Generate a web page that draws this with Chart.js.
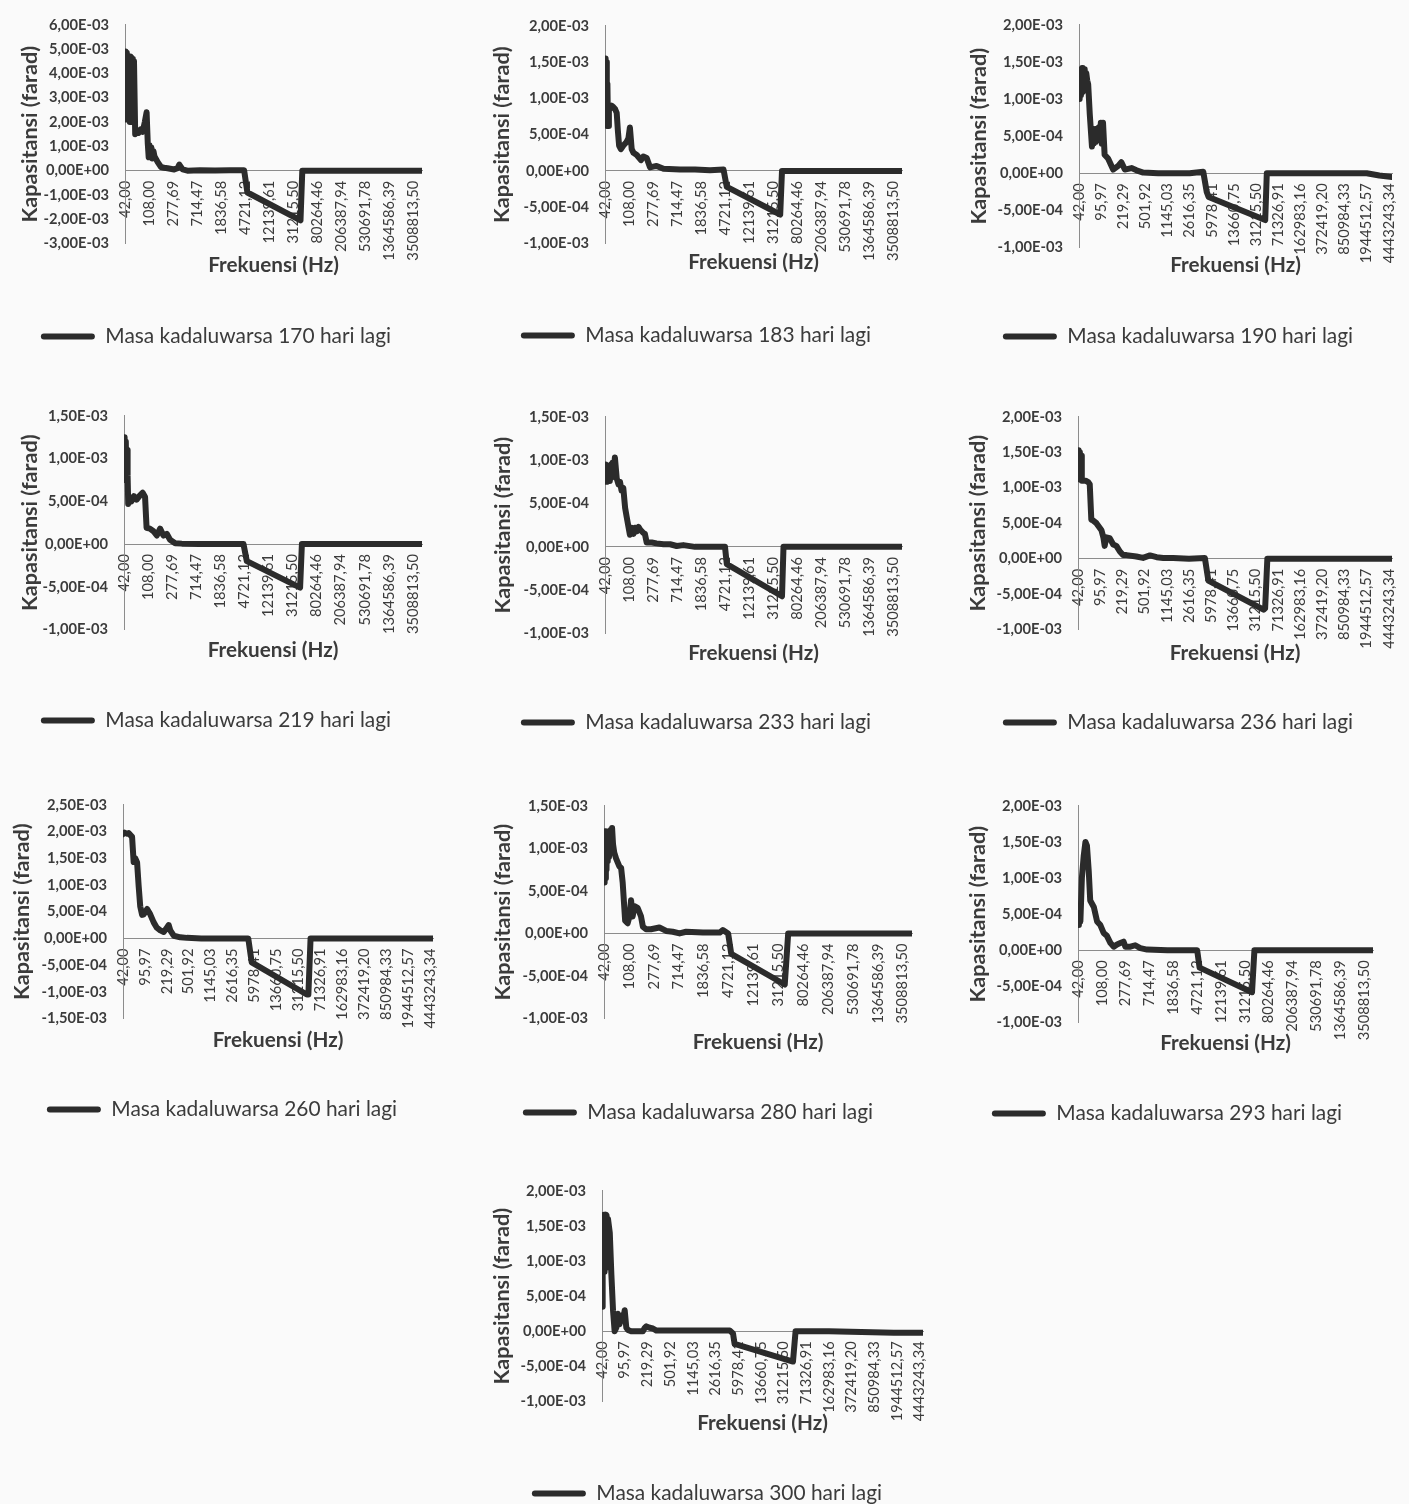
<!DOCTYPE html>
<html>
<head>
<meta charset="utf-8">
<script src="https://cdn.jsdelivr.net/npm/chart.js@4.4.1/dist/chart.umd.min.js"></script>
<style>
  html, body { margin: 0; padding: 0; background: #fafafa; }
  #page { position: relative; width: 1409px; height: 1504px; overflow: hidden; }
  #page canvas { position: absolute; }
</style>
</head>
<body>
<div id="page"></div>
<script>
// frequency tick labels (Hz), every 8th / every 7th sample
const freqA = ['42,00', '108,00', '277,69', '714,47', '1836,58', '4721,12', '12139,61', '31215,50',
  '80264,46', '206387,94', '530691,78', '1364586,39', '3508813,50'];
const freqB = ['42,00', '95,97', '219,29', '501,92', '1145,03', '2616,35', '5978,41', '13660,75',
  '31215,50', '71326,91', '162983,16', '372419,20', '850984,33', '1944512,57', '4443243,34'];

// capacitance (farad), x = sample index (0..99)
const idx170 = [0, 0.2, 0.4, 0.6, 0.8, 1.0, 1.2, 1.4, 1.6, 1.8, 2.0, 2.2, 2.4, 2.6, 2.8, 3.0, 3.4, 3.8, 4.5, 5.2, 5.9, 6.6, 7.2, 7.6, 7.9, 8.2, 8.5, 8.8, 9.1, 9.5, 9.8, 10.9, 12, 13, 14.2, 16.4, 17.5, 18.1, 19.2, 20.8, 25, 30, 35, 39.7, 40.8, 58.5, 59.1, 70, 80, 90, 99];
const cap170 = [2.1e-3, 4.9e-3, 2.1e-3, 4.85e-3, 2.1e-3, 4.7e-3, 2.1e-3, 4.7e-3, 2.0e-3, 4.7e-3, 2.0e-3, 4.65e-3, 2.0e-3, 4.6e-3, 2.0e-3, 4.5e-3, 1.5e-3, 1.6e-3, 1.55e-3, 1.7e-3, 1.6e-3, 2.0e-3, 2.4e-3, 1.1e-3, 0.55e-3, 1.05e-3, 0.55e-3, 0.95e-3, 0.5e-3, 0.8e-3, 0.6e-3, 0.35e-3, 0.15e-3, 0.12e-3, 0.1e-3, 0.05e-3, 0.1e-3, 0.25e-3, 0.05e-3, 0, 2e-5, 1e-5, 2e-5, 2e-5, -0.9e-3, -2.05e-3, 0, 0, 0, 0, 0];

const idx183 = [0, 0.2, 0.4, 0.6, 0.8, 1.0, 1.3, 1.6, 2.2, 2.8, 3.4, 3.9, 4.3, 4.7, 5.3, 6.1, 7.2, 7.8, 8.3, 8.9, 9.5, 10.6, 12.0, 12.8, 13.9, 15, 17.2, 19.5, 25, 30, 35, 39.5, 40.6, 58.4, 59, 70, 80, 90, 99];
const cap183 = [1.55e-3, 0.65e-3, 1.5e-3, 0.62e-3, 1.2e-3, 0.62e-3, 0.88e-3, 0.85e-3, 0.9e-3, 0.88e-3, 0.85e-3, 0.8e-3, 0.55e-3, 0.35e-3, 0.3e-3, 0.35e-3, 0.4e-3, 0.45e-3, 0.6e-3, 0.3e-3, 0.25e-3, 0.22e-3, 0.15e-3, 0.2e-3, 0.18e-3, 0.05e-3, 0.07e-3, 0.03e-3, 0.02e-3, 0.02e-3, 0.01e-3, 0.02e-3, -0.22e-3, -0.6e-3, 0, 0, 0, 0, 0];

const idx190 = [0, 0.2, 0.4, 0.6, 0.8, 1.0, 1.2, 1.4, 1.6, 1.8, 2.0, 2.3, 2.6, 2.9, 3.4, 4.1, 4.4, 4.7, 5.0, 5.3, 5.6, 6.0, 6.3, 6.6, 6.9, 7.2, 7.6, 8.1, 9.2, 10.8, 12.4, 13.4, 14.5, 16.6, 18.2, 20.3, 25, 30, 35, 39.3, 40.4, 41, 58.9, 59.4, 70, 80, 91, 95, 99];
const cap190 = [1.0e-3, 1.35e-3, 1.05e-3, 1.4e-3, 1.08e-3, 1.42e-3, 1.1e-3, 1.4e-3, 1.15e-3, 1.4e-3, 1.2e-3, 1.35e-3, 1.25e-3, 1.2e-3, 0.8e-3, 0.36e-3, 0.6e-3, 0.4e-3, 0.55e-3, 0.42e-3, 0.6e-3, 0.45e-3, 0.62e-3, 0.45e-3, 0.68e-3, 0.4e-3, 0.68e-3, 0.25e-3, 0.2e-3, 0.05e-3, 0.1e-3, 0.15e-3, 0.05e-3, 0.07e-3, 0.04e-3, 0.01e-3, 0, 0, 0, 0.02e-3, -0.25e-3, -0.32e-3, -0.63e-3, 0, 0, 0, 0, -0.03e-3, -0.05e-3];

const idx219 = [0, 0.2, 0.4, 0.6, 0.8, 1.0, 1.2, 1.4, 2.0, 2.5, 3.3, 4.2, 5.3, 6.2, 7.0, 7.5, 8.6, 9.8, 10.9, 12.0, 13.1, 14.2, 15.3, 17, 19.2, 25, 30, 35, 39.7, 40.8, 58.5, 59.1, 70, 80, 90, 99];
const cap219 = [0.75e-3, 1.25e-3, 0.75e-3, 1.2e-3, 0.75e-3, 1.1e-3, 0.8e-3, 0.47e-3, 0.55e-3, 0.5e-3, 0.56e-3, 0.52e-3, 0.57e-3, 0.6e-3, 0.55e-3, 0.19e-3, 0.18e-3, 0.15e-3, 0.1e-3, 0.18e-3, 0.1e-3, 0.12e-3, 0.05e-3, 0.01e-3, 0.005e-3, 0, 0, 0, 0, -0.2e-3, -0.51e-3, 0, 0, 0, 0, 0];

const idx233 = [0, 0.2, 0.4, 0.6, 0.8, 1.0, 1.2, 1.4, 1.6, 1.8, 2.0, 2.2, 2.5, 2.8, 3.3, 3.9, 4.5, 5, 5.5, 6.1, 6.7, 7.2, 8.3, 9.0, 9.5, 10.0, 10.6, 11.2, 11.7, 12.8, 13.3, 13.9, 15.6, 17.2, 19.5, 21.7, 23.9, 26.1, 30, 35, 40, 40.6, 59, 59.5, 70, 80, 90, 99];
const cap233 = [0.95e-3, 0.75e-3, 0.92e-3, 0.75e-3, 0.9e-3, 0.78e-3, 0.92e-3, 0.76e-3, 0.9e-3, 0.8e-3, 0.95e-3, 0.8e-3, 0.97e-3, 0.85e-3, 1.03e-3, 0.79e-3, 0.72e-3, 0.75e-3, 0.65e-3, 0.68e-3, 0.45e-3, 0.35e-3, 0.14e-3, 0.22e-3, 0.15e-3, 0.22e-3, 0.18e-3, 0.23e-3, 0.2e-3, 0.16e-3, 0.15e-3, 0.05e-3, 0.05e-3, 0.04e-3, 0.03e-3, 0.03e-3, 0.01e-3, 0.02e-3, 0, 0, 0, -0.2e-3, -0.57e-3, 0, 0, 0, 0, 0];

const idx236 = [0, 0.2, 0.4, 0.6, 0.8, 1.0, 1.2, 1.6, 2.4, 3.2, 3.7, 4.2, 4.7, 5.8, 6.6, 7.4, 8.0, 8.4, 8.96, 10, 11.1, 12.1, 13.2, 14.2, 15.3, 18.4, 20.5, 22.7, 24.8, 26.9, 30, 35, 40, 41.1, 58.5, 59, 59.7, 70, 80, 90, 99];
const cap236 = [1.15e-3, 1.53e-3, 1.12e-3, 1.5e-3, 1.12e-3, 1.45e-3, 1.1e-3, 1.1e-3, 1.1e-3, 1.08e-3, 1.05e-3, 0.55e-3, 0.54e-3, 0.5e-3, 0.45e-3, 0.4e-3, 0.3e-3, 0.18e-3, 0.3e-3, 0.29e-3, 0.2e-3, 0.18e-3, 0.1e-3, 0.05e-3, 0.05e-3, 0.03e-3, 0.01e-3, 0.045e-3, 0.02e-3, 0.01e-3, 0.01e-3, 0, 0.01e-3, -0.31e-3, -0.72e-3, -0.7e-3, 0, 0, 0, 0, 0];

const idx260 = [0, 0.5, 1.2, 1.8, 2.9, 3.4, 3.9, 4.5, 5, 5.5, 6.1, 6.6, 7.7, 8.7, 9.8, 10.8, 11.9, 13, 14, 14.6, 15.1, 16.2, 18.3, 20.4, 25, 30, 35, 40, 41.1, 58.7, 59.2, 59.9, 70, 80, 90, 99];
const cap260 = [1.95e-3, 1.98e-3, 1.96e-3, 1.97e-3, 1.9e-3, 1.43e-3, 1.5e-3, 1.42e-3, 0.98e-3, 0.6e-3, 0.44e-3, 0.45e-3, 0.55e-3, 0.45e-3, 0.3e-3, 0.2e-3, 0.15e-3, 0.12e-3, 0.2e-3, 0.25e-3, 0.15e-3, 0.05e-3, 0.02e-3, 0.01e-3, 0, 0, 0, 0, -0.45e-3, -1.05e-3, -1.05e-3, 0, 0, 0, 0, 0];

const idx280 = [0, 0.2, 0.4, 0.6, 0.8, 1.0, 1.2, 1.4, 1.6, 1.8, 2.0, 2.2, 2.4, 2.6, 2.9, 3.3, 3.9, 4.9, 5.5, 6, 6.8, 7.6, 8.2, 8.7, 9.2, 9.8, 10.8, 11.9, 12.5, 13.5, 15.1, 17.8, 20, 22.1, 24.3, 26.4, 31.8, 37.2, 38.2, 39.9, 40.9, 58.1, 59.2, 70, 80, 90, 99];
const cap280 = [0.6e-3, 1.2e-3, 0.65e-3, 1.2e-3, 0.75e-3, 1.18e-3, 0.85e-3, 1.2e-3, 0.9e-3, 1.2e-3, 0.95e-3, 1.22e-3, 1.0e-3, 1.24e-3, 1.05e-3, 0.95e-3, 0.88e-3, 0.79e-3, 0.77e-3, 0.6e-3, 0.15e-3, 0.12e-3, 0.2e-3, 0.39e-3, 0.2e-3, 0.32e-3, 0.3e-3, 0.2e-3, 0.08e-3, 0.05e-3, 0.05e-3, 0.07e-3, 0.03e-3, 0.02e-3, 0, 0.02e-3, 0.01e-3, 0.01e-3, 0.04e-3, 0, -0.24e-3, -0.6e-3, 0, 0, 0, 0, 0];

const idx293 = [0, 0.3, 0.8, 1.3, 1.9, 2.5, 3, 3.6, 4.1, 5.3, 6.4, 7.5, 8.6, 9.7, 10.9, 12, 13.1, 14.2, 15.3, 15.9, 17.6, 19.2, 20.9, 23.2, 30, 35, 40, 40.8, 58.4, 59.2, 70, 80, 90, 99];
const cap293 = [0.35e-3, 0.6e-3, 0.4e-3, 1.0e-3, 1.3e-3, 1.5e-3, 1.45e-3, 1.1e-3, 0.69e-3, 0.6e-3, 0.4e-3, 0.35e-3, 0.24e-3, 0.2e-3, 0.1e-3, 0.05e-3, 0.08e-3, 0.1e-3, 0.12e-3, 0.05e-3, 0.05e-3, 0.07e-3, 0.03e-3, 0.01e-3, 0, 0, 0, -0.24e-3, -0.58e-3, 0, 0, 0, 0, 0];

const idx300 = [0, 0.2, 0.4, 0.6, 0.8, 1.0, 1.2, 1.4, 1.6, 1.85, 2.4, 2.9, 3.4, 3.9, 4.4, 4.9, 5.4, 6, 6.5, 7, 7.5, 8, 9, 12.6, 13.2, 13.7, 14.7, 15.7, 16.8, 25, 30, 35, 39.4, 40.4, 40.9, 58.9, 59.7, 70, 80, 90, 99];
const cap300 = [0.35e-3, 1.6e-3, 0.85e-3, 1.66e-3, 0.85e-3, 1.66e-3, 0.9e-3, 1.65e-3, 0.95e-3, 1.6e-3, 1.4e-3, 0.8e-3, 0.3e-3, 0, 0.05e-3, 0.25e-3, 0.1e-3, 0.22e-3, 0.15e-3, 0.3e-3, 0.05e-3, 0.02e-3, 0, 0, 0.05e-3, 0.07e-3, 0.05e-3, 0.04e-3, 0.01e-3, 0.01e-3, 0.01e-3, 0.01e-3, 0.01e-3, -0.03e-3, -0.18e-3, -0.43e-3, 0, 0, -0.01e-3, -0.02e-3, -0.02e-3];

const FAMILY = 'Lato, "Open Sans", sans-serif';
const TEXT = '#3b3b3b';
const LINE = '#2b2b2b';
const AXIS = '#8c8c8c';
const PAD_TOP = 16;

// where each panel sits on the page (pixels)
const panels = [
  { days: 170, ticks: freqA, every: 8, xs: idx170, ys: cap170, yMin: -3e-3, yMax: 6e-3, yStep: 1e-3,
    left: 0, width: 470, top: 16, bottom: 243, axis: 125, end: 422, legendX: 216, legendY: 336, titleX: 30, titleDy: 22 },
  { days: 183, ticks: freqA, every: 8, xs: idx183, ys: cap183, yMin: -1e-3, yMax: 2e-3, yStep: 5e-4,
    left: 470, width: 470, top: 17, bottom: 243, axis: 605, end: 902, legendX: 696, legendY: 335, titleX: 502, titleDy: 19 },
  { days: 190, ticks: freqB, every: 7, xs: idx190, ys: cap190, yMin: -1e-3, yMax: 2e-3, yStep: 5e-4,
    left: 950, width: 459, top: 16, bottom: 247, axis: 1079, end: 1392, legendX: 1178, legendY: 336, titleX: 979, titleDy: 18 },
  { days: 219, ticks: freqA, every: 8, xs: idx219, ys: cap219, yMin: -1e-3, yMax: 1.5e-3, yStep: 5e-4,
    left: 0, width: 470, top: 407, bottom: 629, axis: 124, end: 422, legendX: 216, legendY: 720, titleX: 30, titleDy: 21 },
  { days: 233, ticks: freqA, every: 8, xs: idx233, ys: cap233, yMin: -1e-3, yMax: 1.5e-3, yStep: 5e-4,
    left: 470, width: 470, top: 408, bottom: 633, axis: 605, end: 902, legendX: 696, legendY: 722, titleX: 503, titleDy: 20 },
  { days: 236, ticks: freqB, every: 7, xs: idx236, ys: cap236, yMin: -1e-3, yMax: 2e-3, yStep: 5e-4,
    left: 950, width: 459, top: 408, bottom: 629, axis: 1078, end: 1392, legendX: 1178, legendY: 722, titleX: 978, titleDy: 24 },
  { days: 260, ticks: freqB, every: 7, xs: idx260, ys: cap260, yMin: -1.5e-3, yMax: 2.5e-3, yStep: 5e-4,
    left: 0, width: 470, top: 796, bottom: 1018, axis: 123, end: 433, legendX: 222, legendY: 1109, titleX: 22, titleDy: 22 },
  { days: 280, ticks: freqA, every: 8, xs: idx280, ys: cap280, yMin: -1e-3, yMax: 1.5e-3, yStep: 5e-4,
    left: 470, width: 470, top: 797, bottom: 1018, axis: 604, end: 912, legendX: 698, legendY: 1112, titleX: 503, titleDy: 24 },
  { days: 293, ticks: freqA, every: 8, xs: idx293, ys: cap293, yMin: -1e-3, yMax: 2e-3, yStep: 5e-4,
    left: 950, width: 459, top: 797, bottom: 1022, axis: 1078, end: 1373, legendX: 1167, legendY: 1113, titleX: 978, titleDy: 21 },
  { days: 300, ticks: freqB, every: 7, xs: idx300, ys: cap300, yMin: -1e-3, yMax: 2e-3, yStep: 5e-4,
    left: 470, width: 470, top: 1182, bottom: 1401, axis: 602, end: 923, legendX: 707, legendY: 1493, titleX: 502, titleDy: 22 }
];

// font sizes, worked out from the pixel widths of the scanned text
const sizes = {};
function fitSize(text, weight, target) {
  const ctx = document.createElement('canvas').getContext('2d');
  ctx.font = weight + ' 100px ' + FAMILY;
  return Math.round(1000 * target / ctx.measureText(text).width) / 10;
}

// 6,00E-03 style labels like the Excel original
function sciLabel(v) {
  const clean = Math.abs(v) < 1e-12 ? 0 : v;
  const [mant, exp] = clean.toExponential(2).split('e');
  const e = parseInt(exp, 10);
  return mant.replace('.', ',') + 'E' + (e < 0 ? '-' : '+') + String(Math.abs(e)).padStart(2, '0');
}

const xAxisTitle = {
  id: 'xAxisTitle',
  afterDraw(chart, args, opts) {
    const { ctx, chartArea } = chart;
    ctx.save();
    ctx.font = 'bold ' + sizes.xTitle + 'px ' + FAMILY;
    ctx.fillStyle = TEXT;
    ctx.textAlign = 'center';
    ctx.textBaseline = 'middle';
    ctx.fillText(opts.text, (chartArea.left + chartArea.right) / 2, chartArea.bottom + opts.dy);
    ctx.restore();
  }
};

function drawPanel(p) {
  const page = document.getElementById('page');
  const legFont = sizes.legend;
  const canvasTop = p.top - PAD_TOP;
  const padRight = p.left + p.width - p.end;
  const padLeft = 2 * (p.legendX - p.left) - (p.end - p.left);
  const yWidth = p.axis - p.left - padLeft;
  const legPad = p.legendY - p.bottom - legFont / 2;
  const height = Math.ceil((p.bottom - canvasTop) + legFont + legPad + 10);
  const titlePad = p.titleX - p.left - padLeft - sizes.yTitle * 0.6;

  const canvas = document.createElement('canvas');
  canvas.width = p.width;
  canvas.height = height;
  canvas.style.left = p.left + 'px';
  canvas.style.top = canvasTop + 'px';
  page.appendChild(canvas);

  new Chart(canvas, {
    type: 'line',
    data: {
      datasets: [{
        label: 'Masa kadaluwarsa ' + p.days + ' hari lagi',
        data: p.xs.map((x, i) => ({ x: x, y: p.ys[i] })),
        borderColor: LINE,
        backgroundColor: LINE,
        borderWidth: 6,
        borderJoinStyle: 'round',
        borderCapStyle: 'round',
        pointRadius: 0,
        tension: 0
      }]
    },
    options: {
      responsive: false,
      devicePixelRatio: 1,
      animation: false,
      events: [],
      layout: { padding: { top: PAD_TOP, left: padLeft, right: padRight, bottom: 0 } },
      scales: {
        x: {
          type: 'linear',
          min: 0,
          max: 99,
          position: { y: 0 },
          grid: { display: false, drawTicks: true, tickLength: 8 },
          border: { display: true, color: AXIS, width: 1 },
          afterBuildTicks: (s) => { s.ticks = p.ticks.map((_, i) => ({ value: i * p.every })); },
          ticks: {
            autoSkip: false,
            minRotation: 90,
            maxRotation: 90,
            padding: 2,
            color: TEXT,
            font: { family: FAMILY, size: sizes.xTick },
            callback: (v, i) => p.ticks[i]
          }
        },
        y: {
          type: 'linear',
          min: p.yMin,
          max: p.yMax,
          grid: { display: false, drawTicks: false },
          border: { display: true, color: AXIS, width: 1 },
          afterFit: (s) => { s.width = yWidth; },
          ticks: {
            stepSize: p.yStep,
            padding: 16,
            color: TEXT,
            font: { family: FAMILY, size: sizes.yTick, weight: 'bold' },
            callback: (v) => sciLabel(v)
          },
          title: {
            display: true,
            text: 'Kapasitansi (farad)',
            color: TEXT,
            font: { family: FAMILY, size: sizes.yTitle, weight: 'bold' },
            padding: { top: titlePad, bottom: 0 }
          }
        }
      },
      plugins: {
        tooltip: { enabled: false },
        xAxisTitle: { text: 'Frekuensi (Hz)', dy: p.titleDy },
        legend: {
          display: true,
          position: 'bottom',
          align: 'center',
          labels: {
            boxWidth: 54,
            boxHeight: 6,
            padding: legPad,
            color: TEXT,
            font: { family: FAMILY, size: legFont },
            useBorderRadius: true,
            borderRadius: 3,
            generateLabels: (chart) => Chart.defaults.plugins.legend.labels.generateLabels(chart)
              .map((item) => Object.assign(item, { lineWidth: 0 }))
          }
        }
      }
    },
    plugins: [xAxisTitle]
  });
}

Promise.all([
  document.fonts.load('bold 20px Lato'),
  document.fonts.load('20px Lato')
]).catch(() => null).then(() => {
  sizes.yTick = fitSize('6,00E-03', 'bold', 60);
  sizes.yTitle = fitSize('Kapasitansi (farad)', 'bold', 177);
  sizes.xTitle = fitSize('Frekuensi (Hz)', 'bold', 131);
  sizes.legend = fitSize('Masa kadaluwarsa 170 hari lagi', 'normal', 286);
  sizes.xTick = fitSize('3508813,50', 'normal', 80);
  panels.forEach(drawPanel);
});
</script>
</body>
</html>
